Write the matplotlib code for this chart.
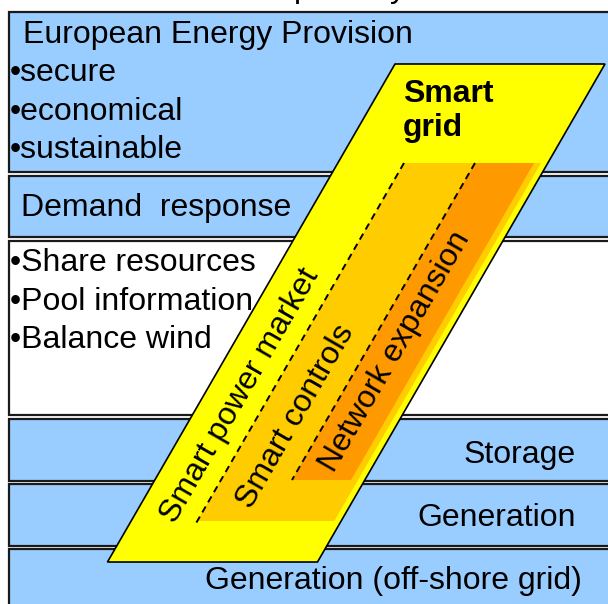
import numpy as np
import matplotlib
matplotlib.use("Agg")
import matplotlib.pyplot as plt
from matplotlib.patches import Rectangle, Polygon

plt.rcParams['font.family'] = ['Liberation Sans', 'DejaVu Sans']

# band contents (top to bottom)
band_colors = ["#99CCFF", "#99CCFF", "#FFFFFF", "#99CCFF", "#99CCFF", "#99CCFF"]
band_tops = [12, 176, 241, 419, 484, 549]
band_bottoms = [172, 237, 415, 481, 546, 620]

provision_title = "European Energy Provision"
provision_items = ["\u2022secure", "\u2022economical", "\u2022sustainable"]
demand_label = "Demand  response"
demand_items = ["\u2022Share resources", "\u2022Pool information", "\u2022Balance wind"]
right_labels = ["Storage", "Generation", "Generation (off-shore grid)"]

grid_title = "Smart\ngrid"
slant_labels = ["Smart power market", "Smart controls", "Network expansion"]

# layout (pixels)
W, H = 608, 604
FS = 23
angle = 60.0
shear = 1.0 / np.tan(np.radians(angle))


def slanted(x_top, width, y_top, y_bot):
    dx = shear * (y_bot - y_top)
    return [(x_top, y_top), (x_top + width, y_top),
            (x_top + width - dx, y_bot), (x_top - dx, y_bot)]


fig = plt.figure(figsize=(W / 100, H / 100), dpi=100)
ax = fig.add_axes([0, 0, 1, 1])
ax.set_xlim(0, W)
ax.set_ylim(H, 0)
ax.axis("off")

for top, bot, col in zip(band_tops, band_bottoms, band_colors):
    ax.add_patch(Rectangle((9, top), 640, bot - top, facecolor=col,
                           edgecolor="#1a1a1a", lw=1.6, zorder=1))

# cut-off heading at the very top
ax.text(303, -3, "p", fontsize=FS, ha="center", va="baseline", zorder=2)
ax.text(398, -3, "y", fontsize=FS, ha="center", va="baseline", zorder=2)

ax.text(23, 35, provision_title, fontsize=FS, va="center", ha="left", zorder=2)
for i, s in enumerate(provision_items):
    ax.text(10, 73 + 38.5 * i, s, fontsize=FS, va="center", ha="left", zorder=2)
ax.text(21, 208, demand_label, fontsize=FS, va="center", ha="left", zorder=2)
for i, s in enumerate(demand_items):
    ax.text(10, 263 + 38.5 * i, s, fontsize=FS, va="center", ha="left", zorder=2)
for s, (x, y) in zip(right_labels, [(576, 455), (576, 518), (582, 581)]):
    ax.text(x, y, s, fontsize=FS, va="center", ha="right", zorder=2)

# smart grid slab
ax.add_patch(Polygon(slanted(395, 210, 64, 562), closed=True,
                     facecolor="#FFFF00", edgecolor="black", lw=1.2, zorder=3))
ax.add_patch(Polygon(slanted(404, 137, 163, 521), closed=True,
                     facecolor="#FFCC00", edgecolor="none", zorder=4))
ax.add_patch(Polygon(slanted(475, 59, 163, 480), closed=True,
                     facecolor="#FF9900", edgecolor="none", zorder=5))
for x0, y0, y1 in [(404, 163, 523), (475, 163, 480)]:
    ax.plot([x0, x0 - shear * (y1 - y0)], [y0, y1], color="black",
            lw=1.4, ls=(0, (3.5, 2.5)), zorder=6)

ax.text(403, 111, grid_title, fontsize=FS, fontweight="bold", ha="left",
        va="center", linespacing=1.2, zorder=7)
for s, (x, y) in zip(slant_labels, [(240, 396), (296, 417), (395, 352)]):
    ax.text(x, y, s, fontsize=FS, rotation=angle, rotation_mode="anchor",
            ha="center", va="center", zorder=7)

fig.savefig("out.png", dpi=100)
